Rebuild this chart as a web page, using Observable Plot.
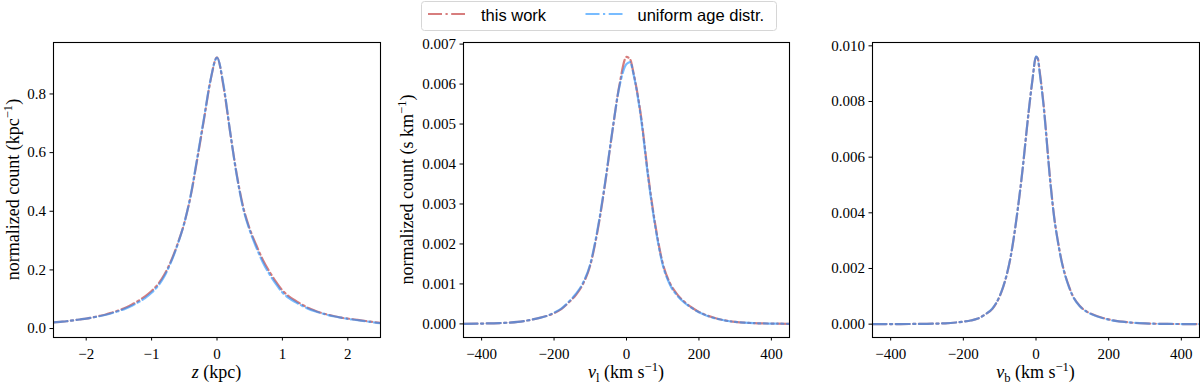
<!DOCTYPE html>
<html><head><meta charset="utf-8">
<script src="https://cdn.jsdelivr.net/npm/d3@7"></script>
<script src="https://cdn.jsdelivr.net/npm/@observablehq/plot@0.6"></script>
<style>
body{margin:0;background:#fff;}
#wrap{position:relative;width:1200px;height:386px;overflow:hidden;background:#fff;}
#wrap > svg{position:absolute;top:0;}
#legend{position:absolute;left:421px;top:1px;z-index:2;}
</style></head><body><div id="wrap"></div>
<script>
// ---------- data ----------
const seriesNames = ["this work", "uniform age distr."];
const seriesColors = ["#cd5c5c", "#1e90ff"];
const seriesOpacity = [0.8, 0.6];

// Panel 1: vertical position z (kpc)
const zGrid = [-2.5,-2.4,-2.3,-2.2,-2.1,-2.0,-1.9,-1.8,-1.7,-1.6,-1.5,-1.4,-1.3,-1.2,-1.1,-1.0,-0.9,-0.8,-0.7,-0.6,-0.5,-0.4,-0.3,-0.2,-0.1,0.0,0.1,0.2,0.3,0.4,0.5,0.6,0.7,0.8,0.9,1.0,1.1,1.2,1.3,1.4,1.5,1.6,1.7,1.8,1.9,2.0,2.1,2.2,2.3,2.4,2.5];
const zThisWork = [0.021,0.023,0.025,0.028,0.031,0.034,0.038,0.043,0.048,0.055,0.062,0.071,0.082,0.095,0.110,0.128,0.152,0.186,0.232,0.290,0.360,0.455,0.580,0.712,0.845,0.925,0.825,0.672,0.528,0.415,0.340,0.285,0.235,0.195,0.160,0.130,0.110,0.095,0.082,0.070,0.061,0.053,0.047,0.042,0.037,0.034,0.031,0.028,0.025,0.022,0.019];
const zUniform  = [0.021,0.023,0.025,0.028,0.031,0.034,0.038,0.042,0.047,0.053,0.060,0.068,0.078,0.090,0.104,0.122,0.146,0.180,0.228,0.288,0.360,0.457,0.585,0.716,0.847,0.924,0.830,0.672,0.525,0.410,0.335,0.277,0.226,0.186,0.152,0.123,0.104,0.090,0.078,0.067,0.059,0.052,0.046,0.041,0.037,0.033,0.030,0.027,0.024,0.021,0.018];
const zTicks = [-2,-1,0,1,2];
const zCountTicks = [0.0,0.2,0.4,0.6,0.8];

// Panel 2: longitudinal velocity v_l (km/s)
const vlGrid = [-450,-400,-350,-300,-260,-240,-220,-200,-180,-160,-140,-120,-100,-80,-60,-40,-20,0,10,20,40,60,80,100,120,140,160,180,200,220,240,260,280,300,350,400,450];
const vlThisWork = [0.000003,0.000008,0.000022,0.00005,0.00011,0.00015,0.00020,0.00027,0.00037,0.00053,0.00072,0.00100,0.00147,0.00232,0.00345,0.00475,0.00595,0.00668,0.00662,0.00625,0.00520,0.00370,0.00245,0.00152,0.00102,0.00074,0.00055,0.00041,0.00030,0.00022,0.00016,0.00011,0.000075,0.00005,0.00002,0.000008,0.000003];
const vlUniform  = [0.000003,0.000008,0.000022,0.00005,0.00011,0.00015,0.00020,0.00028,0.00038,0.00055,0.00075,0.00103,0.00150,0.00236,0.00348,0.00477,0.00592,0.00650,0.00655,0.00622,0.00515,0.00365,0.00240,0.00148,0.00098,0.00071,0.00053,0.00040,0.00029,0.00021,0.00015,0.00011,0.000072,0.00005,0.00002,0.000008,0.000003];
const vlTicks = [-400,-200,0,200,400];
const vlCountTicks = [0.000,0.001,0.002,0.003,0.004,0.005,0.006,0.007];

// Panel 3: latitudinal velocity v_b (km/s)
const vbGrid = [-450,-400,-350,-300,-250,-220,-200,-180,-160,-140,-120,-100,-90,-80,-70,-60,-50,-40,-20,-10,0,5,10,20,40,50,60,70,80,90,100,120,140,160,180,200,250,300,350,400,450];
const vbThisWork = [0.000001,0.000002,0.000005,0.000012,0.00003,0.00006,0.00009,0.00013,0.00020,0.00035,0.00055,0.00100,0.00135,0.00180,0.00240,0.00320,0.00415,0.00520,0.00765,0.00875,0.00960,0.00955,0.00910,0.00800,0.00505,0.00385,0.00300,0.00230,0.00178,0.00138,0.00105,0.00066,0.00045,0.00033,0.00024,0.00017,0.00007,0.000025,0.00001,0.000004,0.000002];
const vbUniform  = [0.000001,0.000002,0.000005,0.000012,0.00003,0.00006,0.00009,0.00013,0.00020,0.00035,0.00056,0.00101,0.00136,0.00181,0.00241,0.00321,0.00416,0.00521,0.00766,0.00876,0.00962,0.00953,0.00905,0.00795,0.00502,0.00383,0.00298,0.00228,0.00176,0.00136,0.00104,0.00065,0.00044,0.00032,0.00023,0.00016,0.00007,0.000025,0.00001,0.000004,0.000002];
const vbTicks = [-400,-200,0,200,400];
const vbCountTicks = [0.000,0.002,0.004,0.006,0.008,0.010];

// ---------- drawing ----------
const wrap = document.getElementById("wrap");
const DASH = "14,3.5,2.2,3.5";
const SERIF = "'Liberation Serif', 'DejaVu Serif', serif";
const LABEL_FS = 18;

function rich(textSel, parts, fs) {
  let shift = 0;
  for (const [t, k] of parts) {
    const target = k === "sup" ? -7 : k === "sub" ? 4 : 0;
    const ts = textSel.append("tspan").text(t).attr("dy", target - shift);
    shift = target;
    if (k === "i") ts.style("font-style", "italic");
    if (k === "sup" || k === "sub") ts.style("font-size", (fs * 0.7) + "px");
  }
}

function panel(o) {
  const A = o.grid.map((x, i) => ({x, y: o.a[i]}));
  const B = o.grid.map((x, i) => ({x, y: o.b[i]}));
  const svg = Plot.plot({
    width: o.width, height: 386,
    marginLeft: o.ml, marginRight: o.mr, marginTop: 42, marginBottom: 49,
    style: {fontFamily: SERIF, fontSize: "15px", color: "#000", background: "transparent", overflow: "visible"},
    x: {domain: o.xDomain, ticks: o.xTicks, tickFormat: "d", tickSize: 3.5, tickPadding: 7, label: null},
    y: {domain: o.yDomain, ticks: o.yTicks, tickFormat: o.yFmt, tickSize: 3.5, tickPadding: 4, label: null},
    marks: [
      Plot.line(A, {x: "x", y: "y", stroke: seriesColors[0], strokeOpacity: seriesOpacity[0], strokeWidth: 2.2, strokeDasharray: DASH, curve: "monotone-x", clip: true}),
      Plot.line(B, {x: "x", y: "y", stroke: seriesColors[1], strokeOpacity: seriesOpacity[1], strokeWidth: 2.2, strokeDasharray: DASH, curve: "monotone-x", clip: true}),
      Plot.frame({stroke: "#000", strokeWidth: 1.1})
    ]
  });
  svg.style.left = o.left + "px";
  const s = d3.select(svg);
  const cx = o.ml + (o.width - o.ml - o.mr) / 2;
  const xl = s.append("text").attr("x", cx).attr("y", 377.5).attr("text-anchor", "middle")
    .style("font-family", SERIF).style("font-size", LABEL_FS + "px").attr("fill", "#000");
  rich(xl, o.xLabel, LABEL_FS);
  if (o.yLabel) {
    const yl = s.append("text").attr("transform", `translate(${o.yLabelX},189.5) rotate(-90)`)
      .attr("text-anchor", "middle").style("font-family", SERIF).style("font-size", LABEL_FS + "px").attr("fill", "#000");
    rich(yl, o.yLabel, LABEL_FS);
  }
  wrap.appendChild(svg);
}

panel({left: 0, width: 400, ml: 53, mr: 20, grid: zGrid, a: zThisWork, b: zUniform,
  xDomain: [-2.5, 2.5], xTicks: zTicks, yDomain: [-0.0305, 0.9755], yTicks: zCountTicks, yFmt: ".1f",
  xLabel: [["z", "i"], [" (kpc)", "n"]],
  yLabel: [["normalized count (kpc", "n"], ["\u22121", "sup"], [")", "n"]], yLabelX: 18.5});

panel({left: 400, width: 400, ml: 63, mr: 11, grid: vlGrid, a: vlThisWork, b: vlUniform,
  xDomain: [-450, 450], xTicks: vlTicks, yDomain: [-0.00034, 0.00704], yTicks: vlCountTicks, yFmt: ".3f",
  xLabel: [["v", "i"], ["l", "sub"], [" (km s", "n"], ["\u22121", "sup"], [")", "n"]],
  yLabel: [["normalized count (s km", "n"], ["\u22121", "sup"], [")", "n"]], yLabelX: 13});

panel({left: 800, width: 400, ml: 72, mr: 1, grid: vbGrid, a: vbThisWork, b: vbUniform,
  xDomain: [-450, 450], xTicks: vbTicks, yDomain: [-0.00048, 0.01012], yTicks: vbCountTicks, yFmt: ".3f",
  xLabel: [["v", "i"], ["b", "sub"], [" (km s", "n"], ["\u22121", "sup"], [")", "n"]]});

// ---------- legend ----------
const lg = d3.select(wrap).append("svg").attr("id", "legend").attr("width", 357).attr("height", 31)
  .style("left", "421px").style("top", "0px");
lg.append("rect").attr("x", 0.5).attr("y", 1.5).attr("width", 355).attr("height", 29).attr("rx", 3)
  .attr("fill", "#fff").attr("fill-opacity", 0.8).attr("stroke", "#d6d6d6").attr("stroke-width", 1);
const items = [{x: 7, tx: 60}, {x: 164.5, tx: 216.5}];
items.forEach((it, i) => {
  lg.append("line").attr("x1", it.x).attr("x2", it.x + 37).attr("y1", 14).attr("y2", 14)
    .attr("stroke", seriesColors[i]).attr("stroke-opacity", seriesOpacity[i]).attr("stroke-width", 2.2)
    .attr("stroke-dasharray", DASH);
  lg.append("text").attr("x", it.tx).attr("y", 20.5).text(seriesNames[i])
    .style("font-family", "'Liberation Sans', 'DejaVu Sans', sans-serif").style("font-size", "16.5px").attr("fill", "#000");
});
</script>
</body></html>
